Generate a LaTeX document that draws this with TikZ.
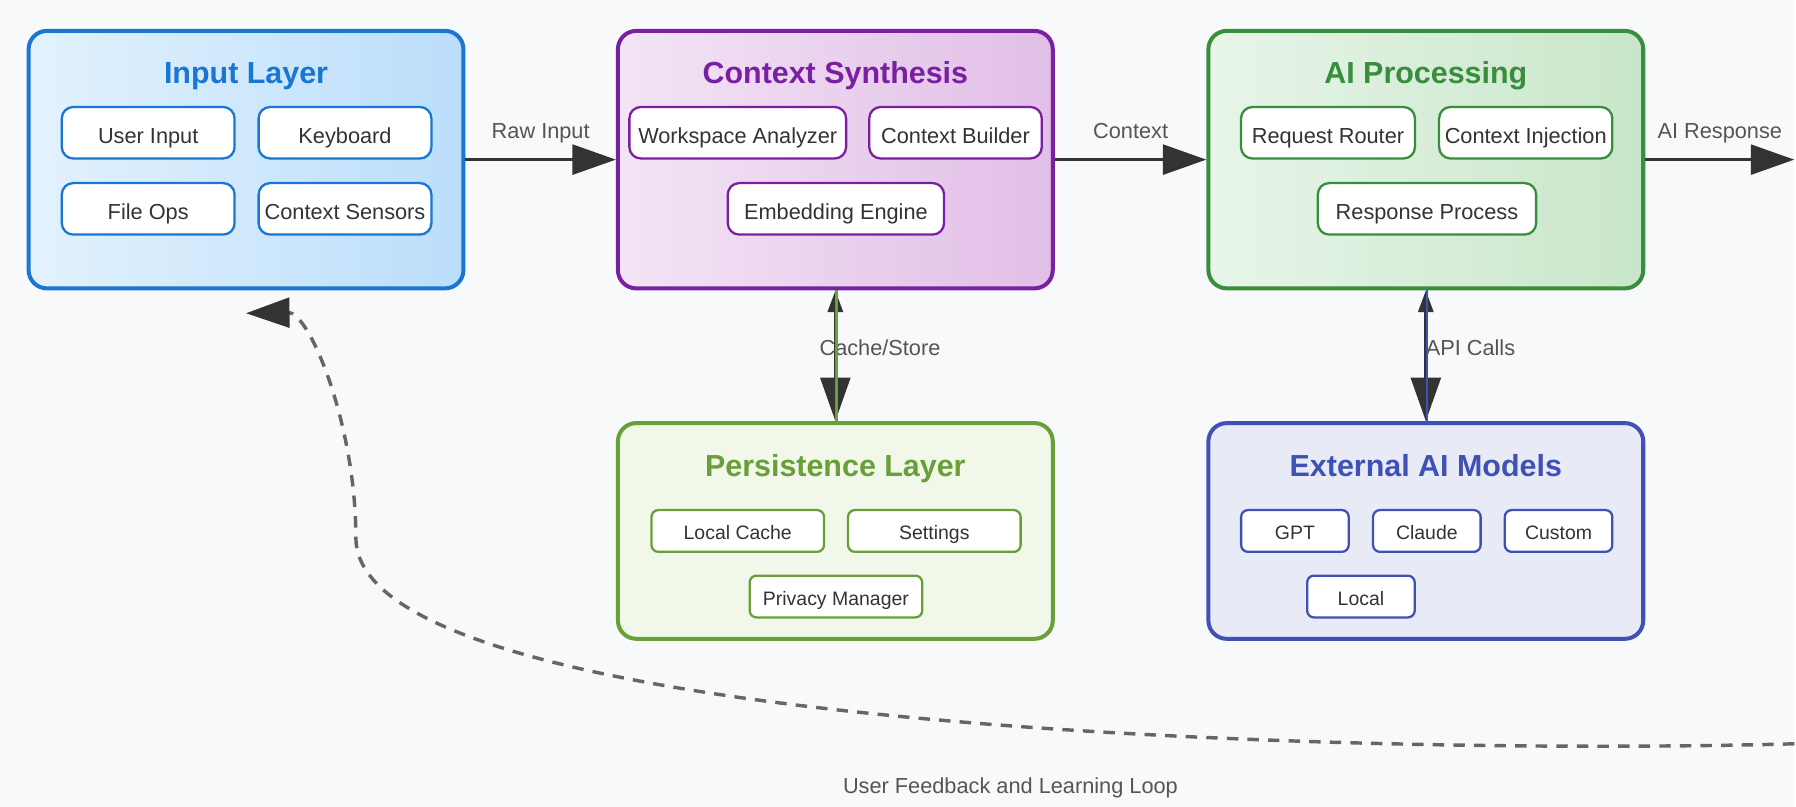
\documentclass[tikz,border=0pt]{standalone}
\usepackage{fontspec}
\setmainfont{Liberation Sans}
\usetikzlibrary{arrows.meta}
\usetikzlibrary{shapes}
\definecolor{sbg}{HTML}{F8F9FA}
\definecolor{sdunkel}{HTML}{333333}
\definecolor{slabel}{HTML}{555555}
\definecolor{sdash}{HTML}{666666}
\definecolor{inblue}{HTML}{1976D2}
\definecolor{cspurple}{HTML}{7B1FA2}
\definecolor{aigreen}{HTML}{388E3C}
\definecolor{plgreen}{HTML}{689F38}
\definecolor{exindigo}{HTML}{3F51B5}
\definecolor{inlight}{HTML}{E3F2FD}
\definecolor{indeep}{HTML}{BBDEFB}
\definecolor{cslight}{HTML}{F3E5F5}
\definecolor{csdeep}{HTML}{E1BEE7}
\definecolor{ailight}{HTML}{E8F5E9}
\definecolor{aideep}{HTML}{C8E6C9}
\definecolor{plfill}{HTML}{F1F8E9}
\definecolor{exfill}{HTML}{E8EAF6}

\begin{document}
\begin{tikzpicture}[x=0.5pt, y=-0.5pt, >={Triangle[length=19pt,width=13pt]},
    every edge/.style={draw=sdunkel, line width=1.5pt},
    layerbox/.style={draw, rectangle, rounded corners=8pt, line width=1.75pt, minimum width=190pt},
    partbox/.style={draw, rectangle, rounded corners=5pt, line width=1pt, fill=white, text=sdunkel, inner sep=0pt, minimum height=22.5pt, text height=9pt, text depth=0pt, font=\fontsize{9.5}{11}\selectfont},
    smallbox/.style={partbox, rounded corners=3pt, minimum height=18.25pt, text height=7.5pt, font=\fontsize{8.5}{10}\selectfont},
    titletext/.style={anchor=base, font=\bfseries\fontsize{13.3}{16}\selectfont},
    lbl/.style={anchor=base, text=slabel, font=\fontsize{9.5}{11}\selectfont}]
        \fill[sbg] (0, 0) rectangle (1568, 705);

        % layers
        \node[layerbox, draw=inblue, left color=inlight, right color=indeep, minimum height=112.5pt] (IN) at (215, 139.5) {};

        \node[layerbox, draw=cspurple, left color=cslight, right color=csdeep, minimum height=112.5pt] (CS) at (730, 139.5) {};

        \node[layerbox, draw=aigreen, left color=ailight, right color=aideep, minimum height=112.5pt] (AI) at (1246, 139.5) {};

        \node[layerbox, draw=plgreen, fill=plfill, minimum height=94.25pt] (PL) at (730, 464) {};

        \node[layerbox, draw=exindigo, fill=exfill, minimum height=94.25pt] (EX) at (1246, 464) {};

        % titles
        \node[titletext, text=inblue] (INt) at (215, 73) {Input Layer};

        \node[titletext, text=cspurple] (CSt) at (730, 73) {Context Synthesis};

        \node[titletext, text=aigreen] (AIt) at (1246, 73) {AI Processing};

        \node[titletext, text=plgreen] (PLt) at (730, 416) {Persistence Layer};

        \node[titletext, text=exindigo] (EXt) at (1246, 416) {External AI Models};

        % input layer parts
        \node[partbox, draw=inblue, minimum width=75.5pt] (UI) at (129.5, 116) {User Input};

        \node[partbox, draw=inblue, minimum width=75.5pt] (KB) at (301.5, 116) {Keyboard};

        \node[partbox, draw=inblue, minimum width=75.5pt] (FO) at (129.5, 182.5) {File Ops};

        \node[partbox, draw=inblue, minimum width=75.5pt] (SE) at (301.5, 182.5) {Context Sensors};

        % context synthesis parts
        \node[partbox, draw=cspurple, minimum width=94.7pt] (WA) at (644.7, 116) {Workspace Analyzer};

        \node[partbox, draw=cspurple, minimum width=75.4pt] (CB) at (835, 116) {Context Builder};

        \node[partbox, draw=cspurple, minimum width=94.5pt] (EE) at (730.5, 182.5) {Embedding Engine};

        % ai processing parts
        \node[partbox, draw=aigreen, minimum width=76pt] (RR) at (1160.5, 116) {Request Router};

        \node[partbox, draw=aigreen, minimum width=75.7pt] (CI) at (1333.3, 116) {Context Injection};

        \node[partbox, draw=aigreen, minimum width=95.4pt] (RP) at (1247, 182.5) {Response Process};

        % persistence parts
        \node[smallbox, draw=plgreen, minimum width=75.4pt] (LC) at (644.7, 464) {Local Cache};

        \node[smallbox, draw=plgreen, minimum width=75.4pt] (ST) at (816.5, 464) {Settings};

        \node[smallbox, draw=plgreen, minimum width=75.4pt] (PM) at (730.5, 521.3) {Privacy Manager};

        % external model parts
        \node[smallbox, draw=exindigo, minimum width=47pt] (GPT) at (1131.6, 464) {GPT};

        \node[smallbox, draw=exindigo, minimum width=47pt] (CL) at (1246.9, 464) {Claude};

        \node[smallbox, draw=exindigo, minimum width=47pt] (CU) at (1362, 464) {Custom};

        \node[smallbox, draw=exindigo, minimum width=47pt] (LO) at (1189.3, 521.3) {Local};

        \coordinate (OUT) at (1568, 139.5);
        \coordinate (FB) at (1568, 650);

        % flows
        \path [->](IN) edge node[lbl, midway, yshift=9.25pt] {Raw Input} (CS);
        \path [->](CS) edge node[lbl, midway, yshift=9.25pt] {Context} (AI);
        \path [->](AI) edge node[lbl, midway, yshift=9.25pt] {AI Response} (OUT);

        \path [{Triangle[length=9.5pt,width=6.5pt]}->](CS) edge node[lbl, midway, xshift=19.5pt] {Cache/Store} (PL);
        \draw [plgreen, line width=1pt] ([xshift=0.5pt]CS.south) -- ([xshift=0.5pt]PL.north);

        \path [{Triangle[length=9.5pt,width=6.5pt]}->](AI) edge node[lbl, midway, xshift=19.5pt] {API Calls} (EX);
        \draw [exindigo, line width=1pt] ([xshift=0.5pt]AI.south) -- ([xshift=0.5pt]EX.north);

        % feedback loop
        \draw [sdash, line width=1.5pt, dash pattern=on 5pt off 4pt, -{Triangle[length=19pt,width=13pt,color=sdunkel]}] (FB) .. controls (1200, 660) and (311, 640) .. (311, 470) .. controls (311, 370) and (270, 273) .. ([yshift=-10pt]IN.south);
        \node[lbl] (FBL) at (883, 693) {User Feedback and Learning Loop};

    \end{tikzpicture}
\end{document}
